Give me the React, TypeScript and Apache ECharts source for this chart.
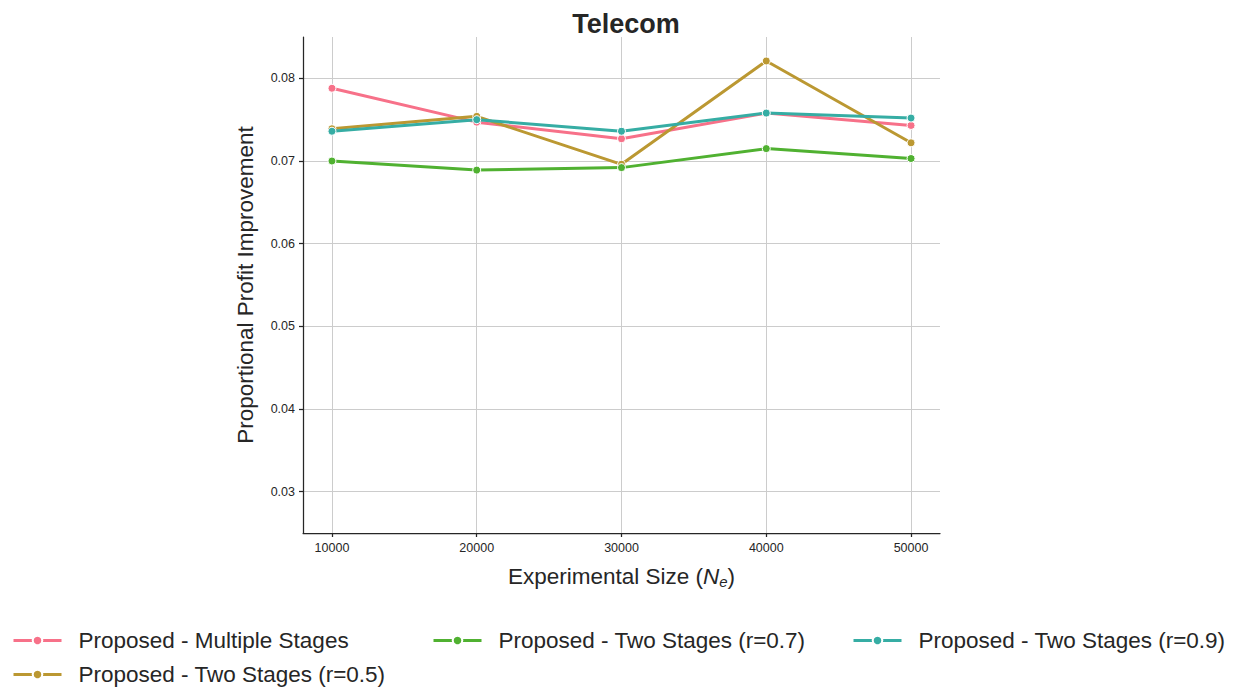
import { useEffect, useRef } from 'react';
import * as echarts from 'echarts';

// Experimental sizes (x) and proportional profit improvement per method
const sizes = [10000, 20000, 30000, 40000, 50000];
const multipleStages = [0.0788, 0.0747, 0.0727, 0.0758, 0.0743];
const twoStagesR05 = [0.0739, 0.0754, 0.0696, 0.0821, 0.0722];
const twoStagesR07 = [0.07, 0.0689, 0.0692, 0.0715, 0.0703];
const twoStagesR09 = [0.0736, 0.075, 0.0736, 0.0758, 0.0752];

const yTicks = [0.03, 0.04, 0.05, 0.06, 0.07, 0.08];
const xTicks = [10000, 20000, 30000, 40000, 50000];

const seriesNames = [
  'Proposed - Multiple Stages',
  'Proposed - Two Stages (r=0.5)',
  'Proposed - Two Stages (r=0.7)',
  'Proposed - Two Stages (r=0.9)',
];
const seriesValues = [multipleStages, twoStagesR05, twoStagesR07, twoStagesR09];
const palette = ['#f77189', '#bb9832', '#50b131', '#36ada4'];

// legend slots: [left, top]
const legendSlots: [number, number][] = [
  [12, 629],
  [12, 663],
  [432, 629],
  [852, 629],
];

const FONT = '"Liberation Sans", Arial, sans-serif';
const INK = '#262626';

export default function App() {
  const ref = useRef<HTMLDivElement>(null);

  useEffect(() => {
    if (!ref.current) return;
    const chart = echarts.init(ref.current, undefined, { renderer: 'svg' });

    chart.setOption({
      animation: false,
      backgroundColor: '#ffffff',
      textStyle: { fontFamily: FONT, color: INK },
      title: {
        text: 'Telecom',
        left: 621,
        textAlign: 'center',
        top: 5,
        textStyle: { fontFamily: FONT, fontSize: 27, fontWeight: 'bold', color: INK },
      },
      grid: { left: 303, right: 299, top: 37, bottom: 157 },
      xAxis: {
        type: 'value',
        min: 8000,
        max: 52000,
        name: '{a|Experimental Size (}{i|N}{s|e}{a|)}',
        nameLocation: 'middle',
        nameGap: 30,
        nameTextStyle: {
          rich: {
            a: { fontFamily: FONT, fontSize: 22.5, color: INK },
            i: { fontFamily: FONT, fontSize: 22.5, fontStyle: 'italic', color: INK },
            s: { fontFamily: FONT, fontSize: 15, fontStyle: 'italic', color: INK, padding: [11, 0, 0, 0] },
          },
        },
        axisLine: { show: true, onZero: false, lineStyle: { color: INK, width: 1.25 } },
        axisTick: { show: true, length: 4, customValues: xTicks, lineStyle: { color: INK, width: 1.25 } },
        axisLabel: {
          customValues: xTicks,
          margin: 8,
          fontSize: 12.5,
          color: INK,
          fontFamily: FONT,
          formatter: (v: number) => String(v),
        },
        splitLine: { show: true, lineStyle: { color: '#cccccc', width: 1 } },
      },
      yAxis: {
        type: 'value',
        min: 0.025,
        max: 0.085,
        name: 'Proportional Profit Improvement',
        nameLocation: 'middle',
        nameGap: 46,
        nameTextStyle: { fontFamily: FONT, fontSize: 22.5, color: INK },
        axisLine: { show: true, onZero: false, lineStyle: { color: INK, width: 1.25 } },
        axisTick: { show: true, length: 4, customValues: yTicks, lineStyle: { color: INK, width: 1.25 } },
        axisLabel: {
          customValues: yTicks,
          margin: 8,
          fontSize: 12.5,
          color: INK,
          fontFamily: FONT,
          formatter: (v: number) => v.toFixed(2),
        },
        splitLine: { show: true, lineStyle: { color: '#cccccc', width: 1 } },
      },
      legend: seriesNames.map((name, i) => ({
        data: [name],
        left: legendSlots[i][0],
        top: legendSlots[i][1],
        padding: 0,
        itemWidth: 48,
        itemHeight: 12,
        itemGap: 0,
        lineStyle: { width: 3 },
        textStyle: { fontFamily: FONT, fontSize: 22.5, color: INK, padding: [0, 0, 0, 12] },
      })),
      series: seriesNames.map((name, i) => ({
        name,
        type: 'line',
        data: sizes.map((x, j) => [x, seriesValues[i][j]]),
        color: palette[i],
        symbol: 'circle',
        symbolSize: 8,
        lineStyle: { width: 3, color: palette[i] },
        itemStyle: { color: palette[i], borderColor: '#ffffff', borderWidth: 1 },
        z: 2 + i,
      })),
    });

    return () => chart.dispose();
  }, []);

  return (
    <div
      ref={ref}
      style={{ position: 'fixed', left: 0, top: 0, width: 1239, height: 690 }}
    />
  );
}
